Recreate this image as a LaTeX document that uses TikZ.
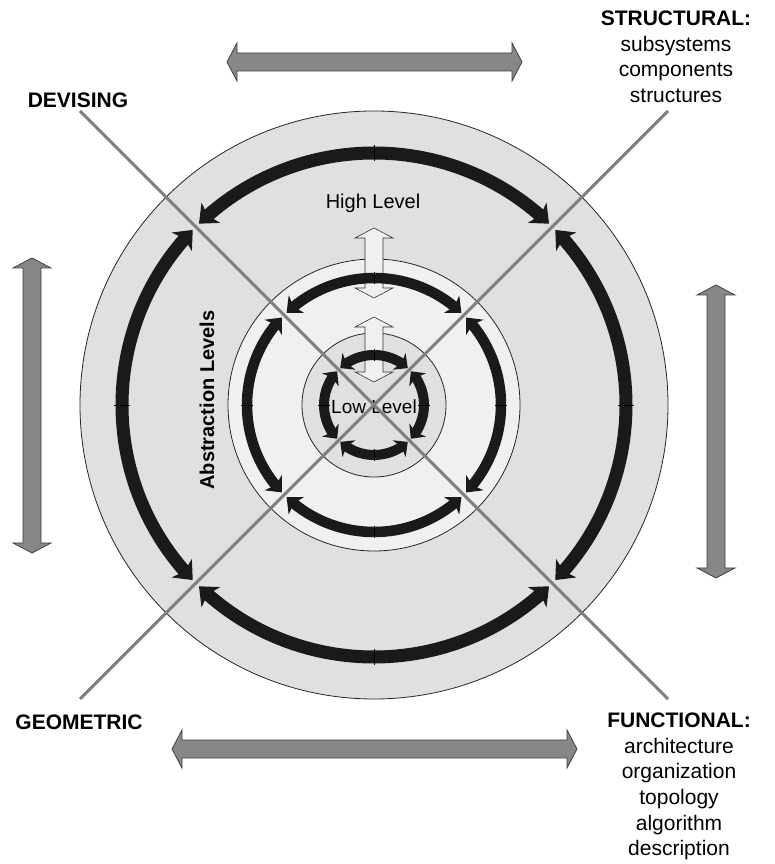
\documentclass[tikz,border=0pt]{standalone}
\usepackage{fontspec}
\setmainfont{Liberation Sans}
\usetikzlibrary{arrows.meta,bending}
\definecolor{ringA}{HTML}{E0E0E0}
\definecolor{ringB}{HTML}{F0F0F0}
\definecolor{darkarc}{HTML}{1A1A1A}
\definecolor{bigarrow}{HTML}{878787}
\definecolor{diag}{HTML}{7F7F7F}
\newcommand\HArrowX[3]{% xl, xr, y
  \filldraw[bigarr] (#1,#3) -- (#1+10,#3+19) -- (#1+10,#3+9) -- (#2-10,#3+9) -- (#2-10,#3+19) -- (#2,#3)
    -- (#2-10,#3-19) -- (#2-10,#3-9) -- (#1+10,#3-9) -- (#1+10,#3-19) -- cycle;}
\newcommand\VArrowX[4]{% style, x, ybottom, ytop
  \filldraw[#1] (#2,#3) -- (#2+19,#3+10) -- (#2+9,#3+10) -- (#2+9,#4-10) -- (#2+19,#4-10) -- (#2,#4)
    -- (#2-19,#4-10) -- (#2-9,#4-10) -- (#2-9,#3+10) -- (#2-19,#3+10) -- cycle;}
\begin{document}
\begin{tikzpicture}[x=1pt,y=1pt,
  circ/.style={draw=black!85, line width=0.8pt},
  bigarr/.style={fill=bigarrow, draw=black!75, line width=0.8pt},
  hollowarr/.style={fill=ringB, draw=black!80, line width=0.6pt},
  arcA/.style={draw=darkarc, line width=13pt,
    {Stealth[length=16pt,width=27pt,inset=4pt]}-{Stealth[length=16pt,width=27pt,inset=4pt]}},
  arcB/.style={draw=darkarc, line width=10.5pt,
    {Stealth[length=13pt,width=23pt,inset=3.5pt]}-{Stealth[length=13pt,width=23pt,inset=3.5pt]}},
  arcC/.style={draw=darkarc, line width=10pt,
    {Stealth[length=11pt,width=21pt,inset=3pt]}-{Stealth[length=11pt,width=21pt,inset=3pt]}},
  tick/.style={draw=black, line width=0.6pt},
  diagline/.style={draw=diag, line width=3pt},
  lab/.style={font=\fontsize{21}{25.7}\selectfont, align=center, inner sep=0pt},
  labb/.style={font=\fontsize{21}{25.7}\selectfont\bfseries, align=center, inner sep=0pt}
]
\useasboundingbox (0,0) rectangle (774,864);
\fill[white] (0,0) rectangle (774,864);
\coordinate (C) at (374,459);
% circles
\draw[circ, fill=ringA] (C) circle[radius=294];
\draw[circ, fill=ringB] (C) circle[radius=146];
\draw[circ, fill=ringA] (C) circle[radius=72];
% large grey double arrows
\HArrowX{227}{522}{802}
\HArrowX{172}{577}{115}
\VArrowX{bigarr}{32}{311}{606}
\VArrowX{bigarr}{716}{286}{579}
% hollow arrows
\VArrowX{hollowarr}{374}{566}{636}
\VArrowX{hollowarr}{374}{482}{547}
% ring arrows
\foreach \a in {0,90,180,270} {
  \draw[arcA] ([shift={(\a-44:252)}]C) arc[start angle=\a-44, end angle=\a+44, radius=252];
  \draw[arcB] ([shift={(\a-43.5:127)}]C) arc[start angle=\a-43.5, end angle=\a+43.5, radius=127];
  \draw[arcC] ([shift={(\a-42.5:50)}]C) arc[start angle=\a-42.5, end angle=\a+42.5, radius=50];
  \draw[tick] ([shift={(\a:244)}]C) -- ([shift={(\a:260)}]C);
  \draw[tick] ([shift={(\a:121)}]C) -- ([shift={(\a:133)}]C);
  \draw[tick] ([shift={(\a:44)}]C) -- ([shift={(\a:56)}]C);
}
% texts
\node[lab, font=\fontsize{20}{24}\selectfont] (high) at (373,661) {High Level};
\node[lab, font=\fontsize{19}{23}\selectfont] (low) at (374,457) {Low Level};
\node[labb, font=\fontsize{20}{24}\selectfont\bfseries, rotate=90] (abs) at (207,464) {Abstraction Levels};
\node[labb] (dev) at (78,764) {DEVISING};
\node[labb] (geo) at (79,142) {GEOMETRIC};
\node[lab, anchor=north] (str) at (676,853.5) {\textbf{STRUCTURAL:}\\subsystems\\components\\structures};
\node[lab, anchor=north] (fun) at (679,151.5) {\textbf{FUNCTIONAL:}\\architecture\\organization\\topology\\algorithm\\description};
% diagonals
\coordinate (tl) at (80,753);
\coordinate (br) at (668,165);
\coordinate (tr) at (668,753);
\coordinate (bl) at (80,165);
\draw[diagline] (tl) -- (br);
\draw[diagline] (tr) -- (bl);
\end{tikzpicture}
\end{document}
